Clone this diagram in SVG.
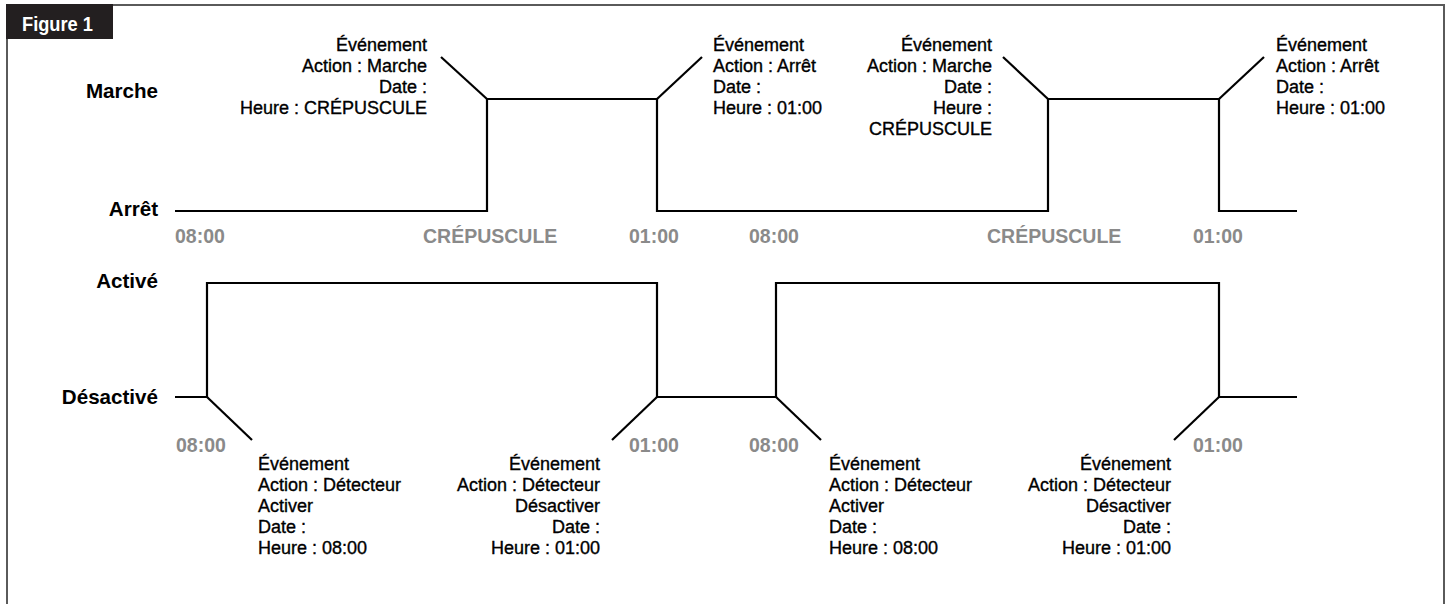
<svg xmlns="http://www.w3.org/2000/svg" width="1449" height="604" viewBox="0 0 1449 604">
<style>
.frame{fill:none;stroke:#5a5a5a;stroke-width:2}
.wave{fill:none;stroke:#000;stroke-width:2.2;stroke-linejoin:miter;stroke-linecap:butt}
.state{font-family:"Liberation Sans",Arial,sans-serif;font-weight:bold;font-size:20.6px;fill:#000;text-anchor:end}
.time{font-family:"Liberation Sans",Arial,sans-serif;font-weight:bold;font-size:19.5px;fill:#8a8a8a}
.ev{font-family:"Liberation Sans",Arial,sans-serif;font-size:18px;fill:#000;stroke:#000;stroke-width:0.35}
.r{text-anchor:end}
</style>
<rect x="0" y="0" width="1449" height="604" fill="#fff"/>
<path class="frame" d="M7,604 V5 H1444 V604"/>
<g id="title">
<rect x="6" y="4" width="107" height="35" fill="#231f20"/>
<text x="22" y="30.5" font-family="'Liberation Sans',Arial,sans-serif" font-weight="bold" font-size="20.5" fill="#fff" textLength="71" lengthAdjust="spacingAndGlyphs">Figure 1</text>
</g>
<g id="state-labels">
<text class="state" x="158" y="98">Marche</text>
<text class="state" x="158" y="216">Arrêt</text>
<text class="state" x="158" y="288">Activé</text>
<text class="state" x="158" y="404">Désactivé</text>
</g>
<g id="time-labels">
<text class="time" x="175" y="243">08:00</text>
<text class="time" x="423" y="243">CRÉPUSCULE</text>
<text class="time" x="629" y="243">01:00</text>
<text class="time" x="749" y="243">08:00</text>
<text class="time" x="987" y="243">CRÉPUSCULE</text>
<text class="time" x="1193" y="243">01:00</text>
<text class="time" x="176" y="452">08:00</text>
<text class="time" x="629" y="452">01:00</text>
<text class="time" x="749" y="452">08:00</text>
<text class="time" x="1193" y="452">01:00</text>
</g>
<g id="connectors">
<path class="wave" d="M175,211 H487 V99 H657 V211 H1048 V99 H1219 V211 H1297"/>
<path class="wave" d="M441,57 L487,99"/>
<path class="wave" d="M657,99 L702,57"/>
<path class="wave" d="M1003,57 L1048,99"/>
<path class="wave" d="M1219,99 L1264,57"/>
<path class="wave" d="M175,397 H207 V283 H657 V397 H776 V283 H1219 V397 H1297"/>
<path class="wave" d="M207,397 L252,440"/>
<path class="wave" d="M657,397 L612,440"/>
<path class="wave" d="M776,397 L821,440"/>
<path class="wave" d="M1219,397 L1174,440"/>
</g>
<g id="event-on-1">
<text class="ev r" x="427" y="51">Événement</text>
<text class="ev r" x="427" y="72">Action : Marche</text>
<text class="ev r" x="427" y="93">Date :</text>
<text class="ev r" x="427" y="114">Heure : CRÉPUSCULE</text>
</g>
<g id="event-off-1">
<text class="ev" x="713" y="51">Événement</text>
<text class="ev" x="713" y="72">Action : Arrêt</text>
<text class="ev" x="713" y="93">Date :</text>
<text class="ev" x="713" y="114">Heure : 01:00</text>
</g>
<g id="event-on-2">
<text class="ev r" x="992" y="51">Événement</text>
<text class="ev r" x="992" y="72">Action : Marche</text>
<text class="ev r" x="992" y="93">Date :</text>
<text class="ev r" x="992" y="114">Heure :</text>
<text class="ev r" x="992" y="135">CRÉPUSCULE</text>
</g>
<g id="event-off-2">
<text class="ev" x="1276" y="51">Événement</text>
<text class="ev" x="1276" y="72">Action : Arrêt</text>
<text class="ev" x="1276" y="93">Date :</text>
<text class="ev" x="1276" y="114">Heure : 01:00</text>
</g>
<g id="event-activate-1">
<text class="ev" x="258" y="470">Événement</text>
<text class="ev" x="258" y="491">Action : Détecteur</text>
<text class="ev" x="258" y="512">Activer</text>
<text class="ev" x="258" y="533">Date :</text>
<text class="ev" x="258" y="554">Heure : 08:00</text>
</g>
<g id="event-deactivate-1">
<text class="ev r" x="600" y="470">Événement</text>
<text class="ev r" x="600" y="491">Action : Détecteur</text>
<text class="ev r" x="600" y="512">Désactiver</text>
<text class="ev r" x="600" y="533">Date :</text>
<text class="ev r" x="600" y="554">Heure : 01:00</text>
</g>
<g id="event-activate-2">
<text class="ev" x="829" y="470">Événement</text>
<text class="ev" x="829" y="491">Action : Détecteur</text>
<text class="ev" x="829" y="512">Activer</text>
<text class="ev" x="829" y="533">Date :</text>
<text class="ev" x="829" y="554">Heure : 08:00</text>
</g>
<g id="event-deactivate-2">
<text class="ev r" x="1171" y="470">Événement</text>
<text class="ev r" x="1171" y="491">Action : Détecteur</text>
<text class="ev r" x="1171" y="512">Désactiver</text>
<text class="ev r" x="1171" y="533">Date :</text>
<text class="ev r" x="1171" y="554">Heure : 01:00</text>
</g>
</svg>
